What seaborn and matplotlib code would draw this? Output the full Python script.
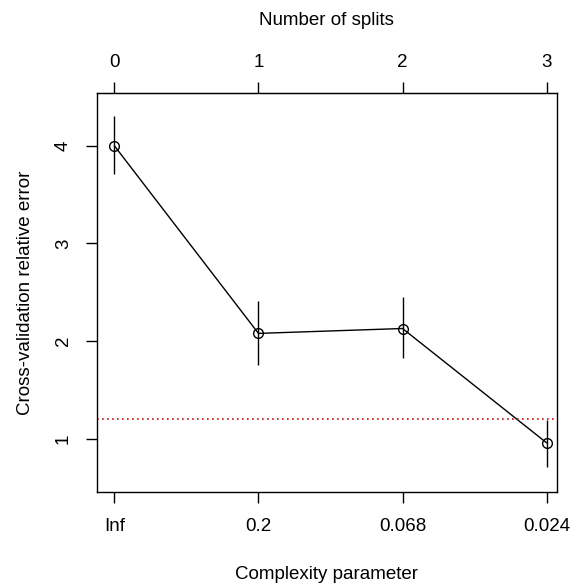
import matplotlib
matplotlib.use("Agg")
import matplotlib.pyplot as plt
import seaborn as sb
import pandas as pd

# values
nsplit = [0, 1, 2, 3]
cp_labels = ["Inf", "0.2", "0.068", "0.024"]
xerror = [4.00, 2.08, 2.13, 0.96]
err_hi = [4.30, 2.41, 2.45, 1.19]
err_lo = [3.71, 1.76, 1.83, 0.71]
threshold = 1.20

df = pd.DataFrame({"nsplit": nsplit, "xerror": xerror})

sb.set_style("white")
plt.rcParams['font.family'] = ['Liberation Sans', 'DejaVu Sans']
plt.rcParams['text.color'] = 'black'
plt.rcParams['axes.labelcolor'] = 'black'
fs = 13.5

fig = plt.figure(figsize=(5.71, 5.85), dpi=100)
ax = fig.add_axes([0.170, 0.159, 0.805, 0.682])

ax.vlines(df["nsplit"], err_lo, err_hi, color="black", linewidth=1)
sb.lineplot(data=df, x="nsplit", y="xerror", ax=ax, color="black", linewidth=1,
            marker="o", markersize=7, markerfacecolor="none",
            markeredgecolor="black", markeredgewidth=1)
ax.axhline(threshold, color="#cc1111", linestyle=(0, (1, 2)), linewidth=1.2)

ax.set_xlim(-0.12, 3.07)
ax.set_ylim(0.457, 4.54)
ax.set_xticks(nsplit)
ax.set_xticklabels(cp_labels)
ax.set_yticks([1, 2, 3, 4])
ax.set_yticklabels(["1", "2", "3", "4"], rotation=90, va="center")
ax.set_xlabel("Complexity parameter", fontsize=fs, labelpad=22, color="black")
ax.set_ylabel("Cross-validation relative error", fontsize=fs, labelpad=15, color="black")
ax.tick_params(direction="out", length=8, width=1, colors="black",
               labelsize=fs, pad=11, bottom=True, left=True)
ax.tick_params(axis="y", pad=10)
for s in ax.spines.values():
    s.set_color("black")
    s.set_linewidth(1)

top = ax.secondary_xaxis("top")
top.set_xticks(nsplit)
top.set_xticklabels([str(n) for n in nsplit])
top.tick_params(direction="out", length=8, width=1, colors="black",
                labelsize=fs, pad=8)
top.set_xlabel("Number of splits", fontsize=fs, labelpad=21, color="black")

fig.savefig("out.png", dpi=100)
